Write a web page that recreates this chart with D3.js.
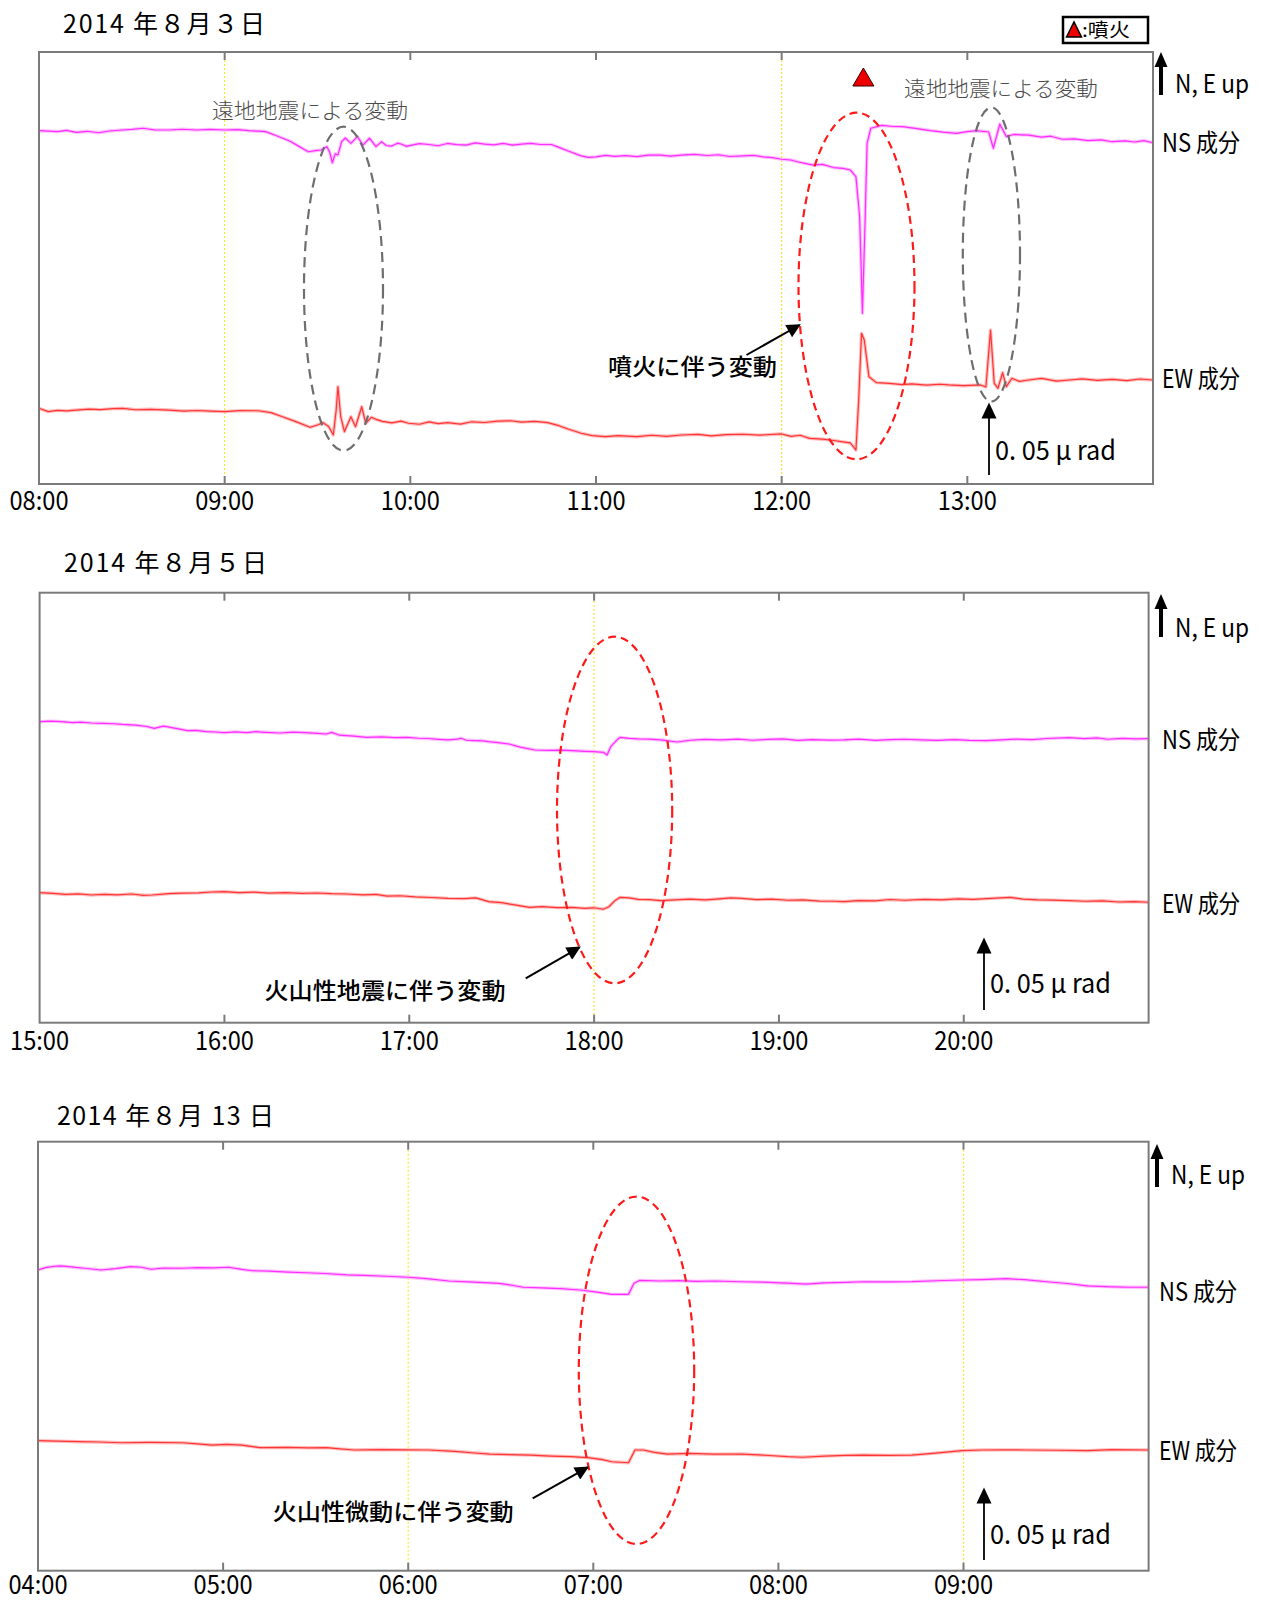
<!DOCTYPE html>
<html>
<head>
<meta charset="utf-8" />
<title>傾斜計記録</title>
<script src="https://d3js.org/d3.v7.min.js"></script>
<style>
  body { margin: 0; background: #fff; }
  text { font-family: "Noto Sans CJK JP", "Noto Sans", sans-serif; }
</style>
</head>
<body>
<svg id="chart" width="1261" height="1600"></svg>
<script>

// tilt change in nrad (0.001 μrad), relative to the first sample; time in hours
var p1Ns = [
  [8.00,0],[8.05,-0.3],[8.10,-0.6],[8.15,0.2],[8.20,-1.2],[8.26,-0.4],[8.32,-1.4],[8.38,-0.2],[8.45,0.5],[8.50,0.9],
  [8.56,1.7],[8.62,0.6],[8.70,0.5],[8.77,1.0],[8.85,0.5],[8.92,0.9],[9.00,0.5],[9.07,0.8],[9.13,0],[9.22,-0.6],
  [9.28,-3.5],[9.35,-7.1],[9.40,-10.8],[9.45,-14.5],[9.50,-13.6],[9.52,-13.3],[9.55,-11.0],[9.565,-14.5],[9.58,-22.1],[9.595,-16.0],
  [9.61,-16.8],[9.63,-7.5],[9.65,-5.0],[9.68,-8.7],[9.715,-4.1],[9.745,-9.9],[9.78,-5.2],[9.815,-11.0],[9.845,-7.6],[9.87,-10.2],
  [9.90,-10.6],[9.93,-8.6],[9.95,-9.2],[9.98,-10.8],[10.00,-10.1],[10.05,-8.9],[10.10,-9.5],[10.15,-10.4],[10.20,-8.8],[10.25,-9.6],
  [10.30,-9.9],[10.35,-8.4],[10.40,-9.2],[10.45,-9.8],[10.50,-8.8],[10.55,-9.9],[10.60,-9.2],[10.65,-8.7],[10.70,-9.5],[10.76,-9.5],
  [10.80,-11.5],[10.85,-14.0],[10.92,-17.4],[10.96,-18.4],[11.00,-18.1],[11.05,-17.0],[11.10,-17.7],[11.16,-17.2],[11.22,-17.9],[11.28,-16.9],
  [11.35,-16.8],[11.40,-17.6],[11.46,-16.8],[11.53,-16.3],[11.60,-17.1],[11.66,-16.6],[11.72,-17.8],[11.79,-17.4],[11.85,-17.0],[11.90,-18.1],
  [11.95,-18.6],[12.00,-19.7],[12.05,-20.2],[12.10,-21.9],[12.17,-23.7],[12.22,-23.2],[12.28,-25.4],[12.33,-26.0],[12.37,-27.1],[12.40,-31.7],
  [12.42,-59.3],[12.435,-125.9],[12.45,-59.3],[12.46,-8.7],[12.48,1.7],[12.54,3.7],[12.60,2.9],[12.65,2.8],[12.72,1.6],[12.80,0.1],
  [12.87,-1.0],[12.94,-1.8],[13.00,-0.6],[13.05,0],[13.115,-0.9],[13.14,-12.1],[13.175,4.6],[13.21,-4.1],[13.25,-2.6],[13.33,-3.0],
  [13.40,-4.4],[13.45,-3.8],[13.51,-5.9],[13.58,-5.6],[13.65,-6.8],[13.72,-6.3],[13.78,-7.6],[13.85,-7.0],[13.90,-7.8],[13.95,-6.9],[14.00,-8.3]
];
var p1Ew = [
  [8.00,0],[8.05,-2.3],[8.10,-1.4],[8.15,-1.8],[8.20,-1.2],[8.27,-0.6],[8.33,-0.9],[8.40,-0.2],[8.45,0],[8.52,-1.0],
  [8.60,-0.7],[8.70,-1.2],[8.78,-1.9],[8.85,-1.5],[8.93,-2.0],[9.00,-2.3],[9.08,-1.6],[9.18,-1.7],[9.25,-3.0],[9.30,-5.3],
  [9.38,-9.0],[9.46,-13.1],[9.50,-11.5],[9.53,-9.9],[9.56,-12.5],[9.585,-18.4],[9.60,-2.0],[9.61,14.9],[9.625,-5.8],[9.645,-16.1],
  [9.68,-5.8],[9.705,-12.7],[9.738,1.1],[9.76,-10.3],[9.79,-6.2],[9.815,-7.6],[9.85,-9.0],[9.90,-10.1],[9.95,-8.8],[9.99,-10.3],
  [10.05,-11.0],[10.10,-9.4],[10.15,-10.6],[10.20,-9.9],[10.27,-10.9],[10.33,-9.3],[10.40,-9.8],[10.47,-8.9],[10.54,-8.6],[10.60,-9.5],
  [10.67,-9.0],[10.74,-9.9],[10.80,-12.0],[10.85,-14.3],[10.92,-17.2],[10.98,-18.8],[11.05,-19.6],[11.12,-18.9],[11.22,-19.6],[11.30,-18.6],
  [11.38,-19.3],[11.46,-18.4],[11.55,-18.0],[11.62,-19.0],[11.70,-18.2],[11.79,-17.9],[11.88,-18.5],[12.00,-17.7],[12.05,-19.4],[12.10,-18.6],
  [12.15,-20.7],[12.22,-21.3],[12.28,-22.2],[12.32,-23.0],[12.37,-23.9],[12.40,-28.8],[12.415,5.7],[12.43,51.7],[12.445,47.1],[12.47,21.8],
  [12.51,17.7],[12.58,17.2],[12.65,16.3],[12.70,16.8],[12.78,16.0],[12.85,16.6],[12.90,16.1],[12.98,15.6],[13.07,16.1],[13.10,14.7],
  [13.125,54.0],[13.145,17.2],[13.165,13.8],[13.19,24.6],[13.21,14.9],[13.24,20.7],[13.28,18.6],[13.33,19.5],[13.40,20.6],[13.48,18.8],
  [13.55,19.5],[13.62,20.3],[13.70,19.3],[13.78,20.0],[13.86,19.1],[13.93,20.2],[14.00,19.5]
];
var p2Ns = [
  [15.00,0],[15.06,0.4],[15.12,0],[15.18,-0.6],[15.22,-0.3],[15.28,-0.9],[15.34,-1.1],[15.40,-1.4],[15.45,-1.9],[15.52,-2.4],
  [15.58,-3.3],[15.62,-4.6],[15.67,-3.0],[15.73,-4.4],[15.80,-6.2],[15.85,-6.0],[15.90,-6.8],[15.95,-7.1],[16.00,-7.6],[16.06,-7.0],
  [16.12,-7.5],[16.17,-6.9],[16.22,-7.3],[16.30,-7.8],[16.37,-7.2],[16.44,-7.6],[16.50,-8.0],[16.55,-8.5],[16.58,-7.4],[16.62,-9.2],
  [16.70,-9.9],[16.77,-10.8],[16.85,-10.4],[16.92,-11.0],[16.99,-10.8],[17.05,-11.4],[17.10,-11.6],[17.16,-12.2],[17.21,-12.6],[17.26,-12.0],
  [17.28,-11.4],[17.31,-12.8],[17.35,-13.0],[17.40,-13.2],[17.43,-13.8],[17.48,-14.4],[17.54,-15.4],[17.60,-17.5],[17.68,-19.5],[17.75,-19.8],
  [17.82,-19.6],[17.88,-20.0],[17.95,-20.4],[18.00,-20.6],[18.05,-21.1],[18.07,-23.0],[18.09,-17.2],[18.12,-13.0],[18.14,-10.8],[18.19,-11.5],
  [18.24,-11.9],[18.30,-12.0],[18.36,-12.6],[18.45,-14.0],[18.52,-12.8],[18.60,-12.2],[18.69,-12.6],[18.78,-12.0],[18.86,-12.8],[18.94,-12.2],
  [19.02,-11.9],[19.10,-12.9],[19.18,-12.3],[19.27,-12.7],[19.35,-12.6],[19.43,-12.0],[19.52,-12.9],[19.60,-12.4],[19.68,-12.1],[19.77,-12.6],
  [19.86,-12.9],[19.95,-12.3],[20.03,-12.9],[20.12,-13.1],[20.20,-12.6],[20.28,-12.0],[20.37,-12.4],[20.45,-11.6],[20.57,-11.0],[20.65,-11.7],
  [20.72,-11.2],[20.78,-12.1],[20.86,-11.5],[20.93,-11.9],[21.00,-11.7]
];
var p2Ew = [
  [15.00,0],[15.07,-0.4],[15.14,-1.2],[15.21,-0.8],[15.28,-1.6],[15.35,-1.1],[15.42,-1.5],[15.50,-0.9],[15.56,-1.8],[15.61,-1.6],
  [15.70,-0.6],[15.78,-0.3],[15.86,-0.1],[15.93,0.5],[16.00,0.7],[16.08,0.0],[16.16,0.4],[16.24,-0.3],[16.33,0],[16.42,-0.4],
  [16.50,-0.2],[16.58,-0.7],[16.66,-0.9],[16.75,-1.5],[16.82,-1.2],[16.88,-2.3],[16.95,-2.1],[17.03,-2.9],[17.12,-3.3],[17.21,-3.9],
  [17.30,-4.1],[17.36,-3.6],[17.43,-6.2],[17.50,-6.9],[17.57,-8.4],[17.65,-10.1],[17.72,-9.6],[17.80,-10.3],[17.88,-10.1],[17.95,-10.8],
  [18.00,-10.4],[18.05,-11.4],[18.08,-9.7],[18.11,-5.8],[18.14,-3.2],[18.19,-3.6],[18.24,-4.6],[18.30,-4.8],[18.36,-5.5],[18.44,-4.9],
  [18.52,-4.4],[18.60,-5.0],[18.68,-4.2],[18.74,-3.6],[18.80,-3.9],[18.88,-4.8],[18.96,-4.4],[19.05,-5.2],[19.13,-5.0],[19.22,-5.8],
  [19.30,-5.9],[19.35,-6.2],[19.43,-5.4],[19.52,-5.6],[19.60,-4.7],[19.68,-5.2],[19.79,-4.6],[19.88,-4.9],[19.97,-4.2],[20.05,-4.6],
  [20.15,-3.9],[20.25,-3.2],[20.32,-4.4],[20.40,-4.9],[20.48,-5.1],[20.57,-5.5],[20.66,-5.9],[20.75,-5.6],[20.84,-6.4],[20.92,-6.1],[21.00,-6.6]
];
var p3Ns = [
  [4.00,0],[4.04,1.6],[4.08,2.4],[4.12,2.8],[4.18,2.1],[4.25,1.2],[4.34,0],[4.42,1.0],[4.50,2.3],[4.56,1.9],
  [4.61,0.5],[4.68,1.3],[4.78,1.2],[4.86,1.6],[4.95,1.4],[5.03,1.9],[5.10,0.4],[5.16,-0.5],[5.25,-0.8],[5.35,-1.4],
  [5.45,-1.9],[5.55,-2.4],[5.67,-3.4],[5.76,-3.7],[5.88,-4.3],[6.00,-5.0],[6.10,-6.0],[6.22,-7.6],[6.35,-8.3],[6.49,-9.2],
  [6.56,-10.5],[6.62,-11.9],[6.72,-12.3],[6.82,-12.8],[6.93,-13.8],[7.02,-15.3],[7.10,-16.8],[7.19,-16.8],[7.22,-9.2],[7.25,-7.2],
  [7.36,-7.6],[7.46,-7.3],[7.56,-7.9],[7.66,-7.6],[7.80,-8.1],[7.92,-8.4],[8.05,-9.1],[8.15,-9.7],[8.25,-8.9],[8.36,-8.5],
  [8.46,-8.1],[8.60,-8.2],[8.72,-8.0],[8.85,-7.4],[8.99,-6.9],[9.10,-6.6],[9.23,-6.0],[9.33,-6.7],[9.45,-8.1],[9.56,-9.3],
  [9.67,-11.0],[9.80,-11.6],[9.90,-11.9],[10.00,-11.9]
];
var p3Ew = [
  [4.00,0],[4.10,-0.3],[4.23,-0.7],[4.33,-0.9],[4.45,-1.4],[4.60,-1.2],[4.78,-1.4],[4.86,-2.2],[4.94,-3.0],[5.02,-2.6],
  [5.10,-3.0],[5.20,-4.8],[5.35,-4.6],[5.46,-4.9],[5.56,-4.8],[5.63,-5.6],[5.71,-6.4],[5.85,-6.1],[6.00,-6.3],[6.11,-6.4],
  [6.25,-7.3],[6.36,-8.5],[6.44,-9.2],[6.55,-9.6],[6.66,-9.9],[6.77,-10.6],[6.88,-11.0],[6.97,-11.7],[7.05,-13.0],[7.10,-14.5],
  [7.19,-15.2],[7.225,-6.4],[7.27,-6.4],[7.33,-8.0],[7.40,-9.2],[7.52,-8.8],[7.65,-9.3],[7.80,-9.2],[7.95,-10.2],[8.05,-11.0],
  [8.13,-11.4],[8.25,-10.6],[8.36,-10.1],[8.46,-9.9],[8.60,-10.1],[8.72,-9.9],[8.85,-8.6],[8.99,-6.9],[9.10,-6.4],[9.22,-6.3],
  [9.34,-6.4],[9.50,-6.6],[9.67,-6.9],[9.80,-6.2],[9.90,-6.3],[10.00,-6.4]
];

var titles = ["2014 年８月３日", "2014 年８月５日", "2014 年８月 13 日"];
var p1Ticks = [8, 9, 10, 11, 12, 13];
var p2Ticks = [15, 16, 17, 18, 19, 20];
var p3Ticks = [4, 5, 6, 7, 8, 9];
var p1TickLabels = ["08:00", "09:00", "10:00", "11:00", "12:00", "13:00"];
var p2TickLabels = ["15:00", "16:00", "17:00", "18:00", "19:00", "20:00"];
var p3TickLabels = ["04:00", "05:00", "06:00", "07:00", "08:00", "09:00"];
var p1Marks = [9, 12];
var p2Marks = [18];
var p3Marks = [6, 9];
var eruptionTimes = [12.44];
var scaleBar = 50;  // nrad = 0.05 μrad
var notes = ["遠地地震による変動", "噴火に伴う変動", "火山性地震に伴う変動", "火山性微動に伴う変動"];

var svg = d3.select("#chart");

svg.append("defs").append("marker")
  .attr("id", "head")
  .attr("viewBox", "0 0 10 10")
  .attr("refX", 9).attr("refY", 5)
  .attr("markerWidth", 18).attr("markerHeight", 14)
  .attr("markerUnits", "userSpaceOnUse")
  .attr("orient", "auto")
  .append("path").attr("d", "M0,0 L10,5 L0,10 z").attr("fill", "#000");

var panels = [
  { title: titles[0], tx: 63, ty: 33, tw: 202,
    left: 39, right: 1153, top: 52, bottom: 484, domain: [8, 14],
    ticks: p1Ticks, labels: p1TickLabels, labelY: 510, marks: p1Marks,
    ns: p1Ns, ew: p1Ew, nsBase: 130.7, ewBase: 408.3,
    upX: 1161, upBottom: 95, upTextY: 93, nsTextY: 152, ewTextY: 388, lblX: 1162,
    scaleX: 989, scaleBottom: 475, scaleTextY: 460 },
  { title: titles[1], tx: 64, ty: 572, tw: 203,
    left: 39.6, right: 1148.6, top: 592.7, bottom: 1022.7, domain: [15, 21],
    ticks: p2Ticks, labels: p2TickLabels, labelY: 1050, marks: p2Marks,
    ns: p2Ns, ew: p2Ew, nsBase: 721.7, ewBase: 892.7,
    upX: 1161, upBottom: 637, upTextY: 636.7, nsTextY: 749, ewTextY: 913, lblX: 1162,
    scaleX: 984, scaleBottom: 1010, scaleTextY: 993 },
  { title: titles[2], tx: 57, ty: 1125, tw: 217,
    left: 38, right: 1148.6, top: 1141.7, bottom: 1570.7, domain: [4, 10],
    ticks: p3Ticks, labels: p3TickLabels, labelY: 1594, marks: p3Marks,
    ns: p3Ns, ew: p3Ew, nsBase: 1270, ewBase: 1440.7,
    upX: 1157, upBottom: 1187, upTextY: 1184, nsTextY: 1300.7, ewTextY: 1460, lblX: 1159,
    scaleX: 984, scaleBottom: 1560, scaleTextY: 1544 }
];

var tilt = d3.scaleLinear().domain([0, scaleBar]).range([0, -72.5]);

function drawPanel(p) {
  var x = d3.scaleLinear().domain(p.domain).range([p.left, p.right]);
  var g = svg.append("g");

  // hour marker lines
  g.selectAll(".mark").data(p.marks).enter().append("line")
    .attr("x1", function(d) { return x(d); }).attr("x2", function(d) { return x(d); })
    .attr("y1", p.top).attr("y2", p.bottom)
    .attr("stroke", "#f5ea2a").attr("stroke-width", 1.2)
    .attr("stroke-dasharray", "2,2");

  var traces = [
    { data: p.ns, base: p.nsBase, core: "#ff2cff", halo: "#ffbfff" },
    { data: p.ew, base: p.ewBase, core: "#ff3535", halo: "#ffbcbc" }
  ];
  traces.forEach(function(t) {
    var line = d3.line()
      .x(function(d) { return x(d[0]); })
      .y(function(d) { return t.base + tilt(d[1]); });
    g.append("path").attr("d", line(t.data)).attr("fill", "none")
      .attr("stroke", t.halo).attr("stroke-width", 3.4).attr("stroke-linejoin", "round");
    g.append("path").attr("d", line(t.data)).attr("fill", "none")
      .attr("stroke", t.core).attr("stroke-width", 1.2).attr("stroke-linejoin", "round");
  });

  // frame
  g.append("rect")
    .attr("x", p.left).attr("y", p.top)
    .attr("width", p.right - p.left).attr("height", p.bottom - p.top)
    .attr("fill", "none").attr("stroke", "#7b7b7b").attr("stroke-width", 2);

  // ticks top and bottom
  var inner = p.ticks.filter(function(h) { return h > p.domain[0]; });
  g.selectAll(".tt").data(inner).enter().append("line")
    .attr("x1", function(d) { return x(d); }).attr("x2", function(d) { return x(d); })
    .attr("y1", p.top).attr("y2", p.top + 8)
    .attr("stroke", "#7b7b7b").attr("stroke-width", 2);
  g.selectAll(".tb").data(inner).enter().append("line")
    .attr("x1", function(d) { return x(d); }).attr("x2", function(d) { return x(d); })
    .attr("y1", p.bottom).attr("y2", p.bottom - 8)
    .attr("stroke", "#7b7b7b").attr("stroke-width", 2);

  g.selectAll(".tl").data(p.ticks).enter().append("text")
    .attr("x", function(d) { return x(d); })
    .attr("y", p.labelY)
    .attr("text-anchor", "middle")
    .attr("font-size", 26)
    .attr("textLength", 59).attr("lengthAdjust", "spacingAndGlyphs")
    .text(function(d, i) { return p.labels[i]; });

  // title
  g.append("text").attr("x", p.tx).attr("y", p.ty)
    .attr("font-size", 25).attr("textLength", p.tw).attr("lengthAdjust", "spacing")
    .text(p.title);

  // N, E up
  g.append("line").attr("x1", p.upX).attr("x2", p.upX)
    .attr("y1", p.upBottom).attr("y2", p.upBottom - 30)
    .attr("stroke", "#000").attr("stroke-width", 4);
  g.append("path")
    .attr("d", "M" + (p.upX - 6.5) + "," + (p.upBottom - 28) + " L" + p.upX + "," + (p.upBottom - 43) +
               " L" + (p.upX + 6.5) + "," + (p.upBottom - 28) + " z")
    .attr("fill", "#000");
  g.append("text").attr("x", p.upX + 14).attr("y", p.upTextY)
    .attr("font-size", 25).attr("textLength", 74).attr("lengthAdjust", "spacingAndGlyphs")
    .text("N, E  up");

  g.append("text").attr("x", p.lblX).attr("y", p.nsTextY)
    .attr("font-size", 25).attr("textLength", 78).attr("lengthAdjust", "spacingAndGlyphs")
    .text("NS 成分");
  g.append("text").attr("x", p.lblX).attr("y", p.ewTextY)
    .attr("font-size", 25).attr("textLength", 78).attr("lengthAdjust", "spacingAndGlyphs")
    .text("EW 成分");

  // 0.05 μrad scale bar
  var top = p.scaleBottom + tilt(scaleBar);
  g.append("line").attr("x1", p.scaleX).attr("x2", p.scaleX)
    .attr("y1", p.scaleBottom).attr("y2", top + 12)
    .attr("stroke", "#000").attr("stroke-width", 1.8);
  g.append("path")
    .attr("d", "M" + (p.scaleX - 7.5) + "," + (top + 16) + " L" + p.scaleX + "," + top +
               " L" + (p.scaleX + 7.5) + "," + (top + 16) + " z")
    .attr("fill", "#000");
  g.append("text").attr("x", p.scaleX + 6).attr("y", p.scaleTextY)
    .attr("font-size", 27).attr("textLength", 121).attr("lengthAdjust", "spacingAndGlyphs")
    .text("0. 05 μ rad");

  return x;
}

var xs = panels.map(drawPanel);

function ellipse(cx, cy, rx, ry, color, dash) {
  svg.append("ellipse")
    .attr("cx", cx).attr("cy", cy).attr("rx", rx).attr("ry", ry)
    .attr("fill", "none").attr("stroke", color).attr("stroke-width", 2.2)
    .attr("stroke-dasharray", dash);
}
function pointer(x1, y1, x2, y2) {
  svg.append("line").attr("x1", x1).attr("y1", y1).attr("x2", x2).attr("y2", y2)
    .attr("stroke", "#000").attr("stroke-width", 2)
    .attr("marker-end", "url(#head)");
}
function note(x, y, w, txt, opts) {
  svg.append("text").attr("x", x).attr("y", y)
    .attr("font-size", opts.size)
    .attr("font-weight", opts.weight)
    .attr("fill", opts.fill)
    .attr("textLength", w).attr("lengthAdjust", "spacingAndGlyphs")
    .text(txt);
}

// panel 1 annotations
ellipse(343.5, 288.7, 39.5, 162, "#6e6e6e", "10,6");
ellipse(856.5, 286, 58, 173.3, "#ff1a1a", "8,5");
ellipse(991.4, 254.5, 28.6, 147, "#6e6e6e", "10,6");
note(212, 118, 196, notes[0], { size: 21, weight: 300, fill: "#4a4a4a" });
note(904, 96, 194, notes[0], { size: 21, weight: 300, fill: "#4a4a4a" });
note(608, 375, 169, notes[1], { size: 23, weight: 500, fill: "#000" });
pointer(746.5, 355, 799.6, 325);

svg.selectAll(".eruption").data(eruptionTimes).enter().append("path")
  .attr("d", function(d) {
    var cx = xs[0](d);
    return "M" + (cx - 10.5) + ",86 L" + cx + ",68 L" + (cx + 10.5) + ",86 z";
  })
  .attr("fill", "#ee0000").attr("stroke", "#300").attr("stroke-width", 1);

// legend
svg.append("rect").attr("x", 1063).attr("y", 17).attr("width", 85).attr("height", 26)
  .attr("fill", "#fff").attr("stroke", "#000").attr("stroke-width", 2.5);
svg.append("path").attr("d", "M1066.5,37 L1074,22 L1081.5,37 z")
  .attr("fill", "#ee0000").attr("stroke", "#000").attr("stroke-width", 1.5);
svg.append("text").attr("x", 1082).attr("y", 37).attr("font-size", 19)
  .attr("textLength", 48).attr("lengthAdjust", "spacingAndGlyphs").text(":噴火");

// panel 2 annotations
ellipse(614.6, 810, 57.6, 173.3, "#ff1a1a", "8,5");
note(264.5, 999, 241, notes[2], { size: 23, weight: 500, fill: "#000" });
pointer(525.7, 978.3, 579.6, 947.3);

// panel 3 annotations
ellipse(636.5, 1370.3, 57.7, 173.7, "#ff1a1a", "8,5");
note(272.7, 1520, 241, notes[3], { size: 23, weight: 500, fill: "#000" });
pointer(532.7, 1498.3, 587.8, 1467.3);

</script>
</body>
</html>
